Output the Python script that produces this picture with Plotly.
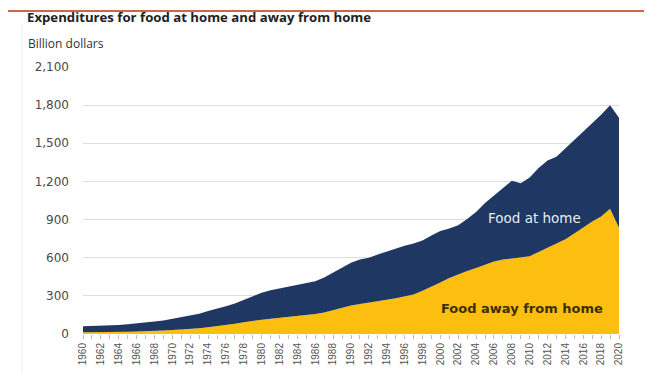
import plotly.graph_objects as go

years = list(range(1960, 2021))

total_food = [60, 62, 64, 67, 71, 76, 82, 90, 98, 107,
              120, 130, 142, 160, 180, 198, 218, 240, 268, 300,
              325, 345, 358, 370, 385, 400, 415, 445, 485, 525,
              560, 585, 600, 625, 650, 672, 695, 712, 735, 775,
              810, 830, 855, 905, 960, 1030, 1090, 1150, 1205, 1185,
              1230, 1305, 1365, 1395, 1460, 1530, 1595, 1660, 1725, 1800,
              1700]

food_away = [14, 14, 15, 16, 17, 18, 20, 21, 24, 27,
             31, 35, 40, 46, 54, 61, 70, 80, 92, 104,
             112, 119, 126, 134, 143, 150, 158, 170, 190, 208,
             225, 235, 245, 258, 270, 282, 295, 310, 340, 370,
             405, 440, 470, 495, 520, 548, 570, 585, 594, 600,
             612, 645, 680, 710, 745, 790, 840, 885, 925, 985,
             835]

food_home = [t - a for t, a in zip(total_food, food_away)]

y_ticks = [0, 300, 600, 900, 1200, 1500, 1800, 2100]
y_tick_labels = ["0", "300", "600", "900", "1,200", "1,500", "1,800", "2,100"]
x_label_years = list(range(1960, 2021, 2))

NAVY = "#1f3763"
GOLD = "#fcbf0f"

# Page body has an 8px default margin; lay out in screen pixels
OFF = 8
W, H = 652, 374
L_PX, R_PX, T_PX, B_PX = 83, 619, 67, 334  # plot area in screen pixels
ML = L_PX - OFF
MT = T_PX - OFF
MR = W - (R_PX - OFF)
MB = H - (B_PX - OFF)
PW, PH = R_PX - L_PX, B_PX - T_PX


def px_x(p):
    return (p - L_PX) / PW


def px_y(p):
    return (B_PX - p) / PH


fig = go.Figure()
fig.add_trace(go.Scatter(
    x=years, y=food_away, name="Food away from home",
    stackgroup="one", mode="lines", line=dict(width=0, color=GOLD),
    fillcolor=GOLD, hoverinfo="x+y"))
fig.add_trace(go.Scatter(
    x=years, y=food_home, name="Food at home",
    stackgroup="one", mode="lines", line=dict(width=0, color=NAVY),
    fillcolor=NAVY, hoverinfo="x+y"))

fig.update_layout(
    width=W, height=H,
    margin=dict(l=ML, r=MR, t=MT, b=MB),
    paper_bgcolor="white", plot_bgcolor="white",
    showlegend=False,
    font=dict(family="Open Sans, Liberation Sans, sans-serif", color="#444"),
)

fig.update_xaxes(
    range=[1960, 2020], showgrid=False, zeroline=False, automargin=False,
    tickmode="array", tickvals=x_label_years,
    ticktext=[str(y) for y in x_label_years],
    tickangle=-90, ticks="outside", ticklen=4, tickcolor="#bbb",
    minor=dict(ticks="outside", ticklen=4, tickcolor="#bbb", dtick=1, tick0=1960),
    tickfont=dict(size=10, color="#555", family="Liberation Sans, Arial, sans-serif"),
    showline=False,
)
fig.update_yaxes(
    range=[0, 2100], tickmode="array", tickvals=y_ticks, ticktext=y_tick_labels,
    showgrid=True, gridcolor="#dedede", gridwidth=1, zeroline=False, automargin=False,
    tickfont=dict(size=12, color="#4a4a4a", family="DejaVu Sans, sans-serif"),
    ticklabelstandoff=13,
)

# Header texts
fig.add_annotation(xref="paper", yref="paper", x=px_x(25), y=px_y(17), xanchor="left", yanchor="middle",
                   text="<b>Expenditures for food at home and away from home</b>",
                   showarrow=False, font=dict(size=13.2, color="#222"))
fig.add_annotation(xref="paper", yref="paper", x=px_x(26), y=px_y(43), xanchor="left", yanchor="middle",
                   text="Billion dollars",
                   showarrow=False, font=dict(size=12, color="#333"))

# In-chart labels
fig.add_annotation(x=2010.5, y=909, text="Food at home", showarrow=False,
                   font=dict(size=13.5, color="#e6ecf4", family="DejaVu Sans, sans-serif"))
fig.add_annotation(x=2009.1, y=201, text="<b>Food away from home</b>", showarrow=False,
                   font=dict(size=13, color="#3b3000", family="DejaVu Sans, sans-serif"))

# Decorative top rule and faint left border
fig.add_shape(type="line", xref="paper", yref="paper", x0=px_x(5), x1=px_x(660),
              y0=px_y(11), y1=px_y(11), line=dict(color="#c9674c", width=2))
fig.add_shape(type="line", xref="paper", yref="paper", x0=px_x(22), x1=px_x(22),
              y0=px_y(380), y1=px_y(24), line=dict(color="#eeeeee", width=1))

fig.write_html("out.html")
